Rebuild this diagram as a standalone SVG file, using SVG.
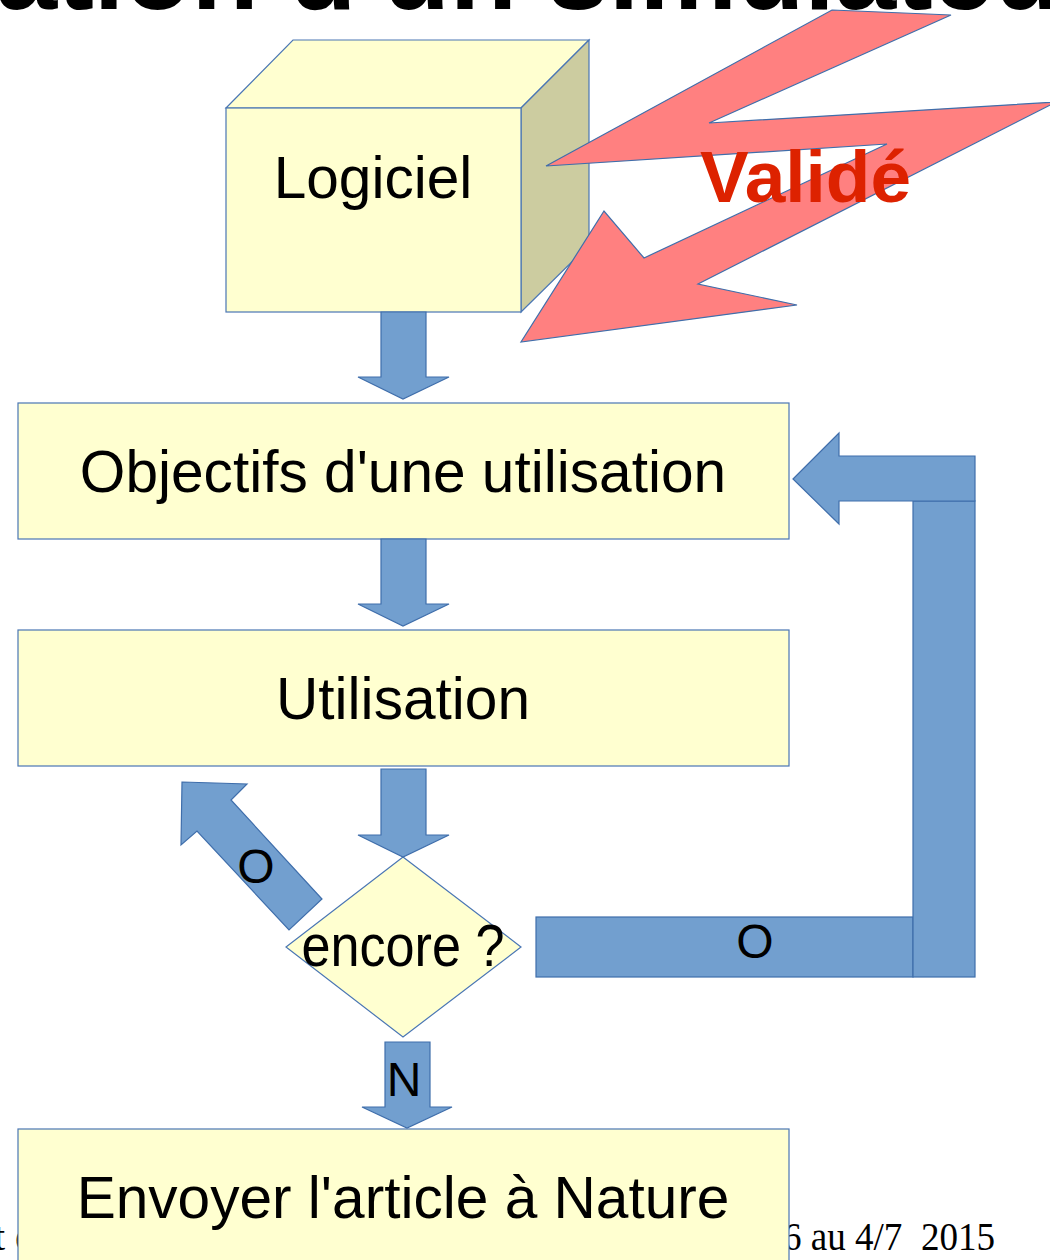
<svg xmlns="http://www.w3.org/2000/svg" width="1050" height="1260" viewBox="0 0 1050 1260">
  <style>
    .box { fill: #ffffd0; stroke: #4a76b4; stroke-width: 1.2; }
    .side { fill: #cccca0; stroke: #4a76b4; stroke-width: 1.2; }
    .flow { fill: #729fcf; stroke: #3f6eab; stroke-width: 1.2; }
    .bolt { fill: #ff8080; stroke: #3f6eab; stroke-width: 1.2; }
    .lbl { font-family: "Liberation Sans", Arial, sans-serif; font-size: 58.6px; fill: #000; text-anchor: middle; }
    .tag { font-family: "Liberation Sans", Arial, sans-serif; font-size: 48px; fill: #000; text-anchor: middle; }
    .foot { font-family: "Liberation Serif", "Times New Roman", serif; font-size: 40px; fill: #000; }
  </style>
  <rect width="1050" height="1260" fill="#ffffff"/>

  <!-- slide title, cut by the top edge -->
  <text x="-4" y="9" font-family="Liberation Sans, Arial, sans-serif" font-weight="bold" font-size="110" fill="#000">ation d'un simulateur</text>

  <!-- footer, partly hidden by the last box -->
  <text class="foot" x="-6" y="1250" xml:space="preserve">t e</text>
  <text class="foot" x="783" y="1250" textLength="212" lengthAdjust="spacingAndGlyphs" xml:space="preserve">6 au 4/7  2015</text>

  <g id="logiciel">
    <polygon class="box" points="226,108 293,40 589,40 521,108"/>
    <polygon class="side" points="521,108 589,40 589,245 521,312"/>
    <rect class="box" x="226" y="108" width="295" height="204"/>
    <text class="lbl" x="373" y="198" font-size="57">Logiciel</text>
  </g>

  <g id="valide">
    <polygon class="bolt" points="832,10 951,15 709,123 1056,102 698,284 797,305 521,342 604,211 644,258 887,144 546,166"/>
    <text x="700" y="202" font-family="Liberation Sans, Arial, sans-serif" font-weight="bold" font-size="73" fill="#dd2200">Validé</text>
  </g>

  <g id="objectifs">
    <rect class="box" x="18" y="403" width="771" height="136"/>
    <text class="lbl" x="403" y="492">Objectifs d'une utilisation</text>
  </g>

  <g id="utilisation">
    <rect class="box" x="18" y="630" width="771" height="136"/>
    <text class="lbl" x="403" y="719">Utilisation</text>
  </g>

  <g id="encore">
    <polygon class="box" points="403,857 521,947 403,1037 286,947"/>
    <text class="lbl" x="403" y="966" textLength="203" lengthAdjust="spacingAndGlyphs">encore ?</text>
  </g>

  <g id="envoyer">
    <rect class="box" x="18" y="1129" width="771" height="150"/>
    <text class="lbl" x="403" y="1218">Envoyer l'article à Nature</text>
  </g>

  <g id="connectors">
    <!-- straight down arrows -->
    <polygon class="flow" points="381,312 426,312 426,377 449,377 403,399 358,377 381,377"/>
    <polygon class="flow" points="381,539 426,539 426,604 449,604 403,626 358,604 381,604"/>
    <polygon class="flow" points="381,769 426,769 426,835 449,835 403,857 358,835 381,835"/>
    <polygon class="flow" points="385,1042 430,1042 430,1107 452,1107 407,1128 362,1107 385,1107"/>
    <text class="tag" x="404" y="1096">N</text>

    <!-- "yes" arrow pointing up-left -->
    <polygon class="flow" points="182,782 247,784 231,800 322,899 289,930 197,831 181,845"/>
    <text class="tag" x="256" y="883">O</text>

    <!-- "yes" loop back to the objectives -->
    <rect class="flow" x="536" y="917" width="377" height="60"/>
    <rect class="flow" x="913" y="501" width="62" height="476"/>
    <polygon class="flow" points="793,479 839,433 839,456 975,456 975,501 839,501 839,524"/>
    <text class="tag" x="755" y="958">O</text>
  </g>
</svg>
